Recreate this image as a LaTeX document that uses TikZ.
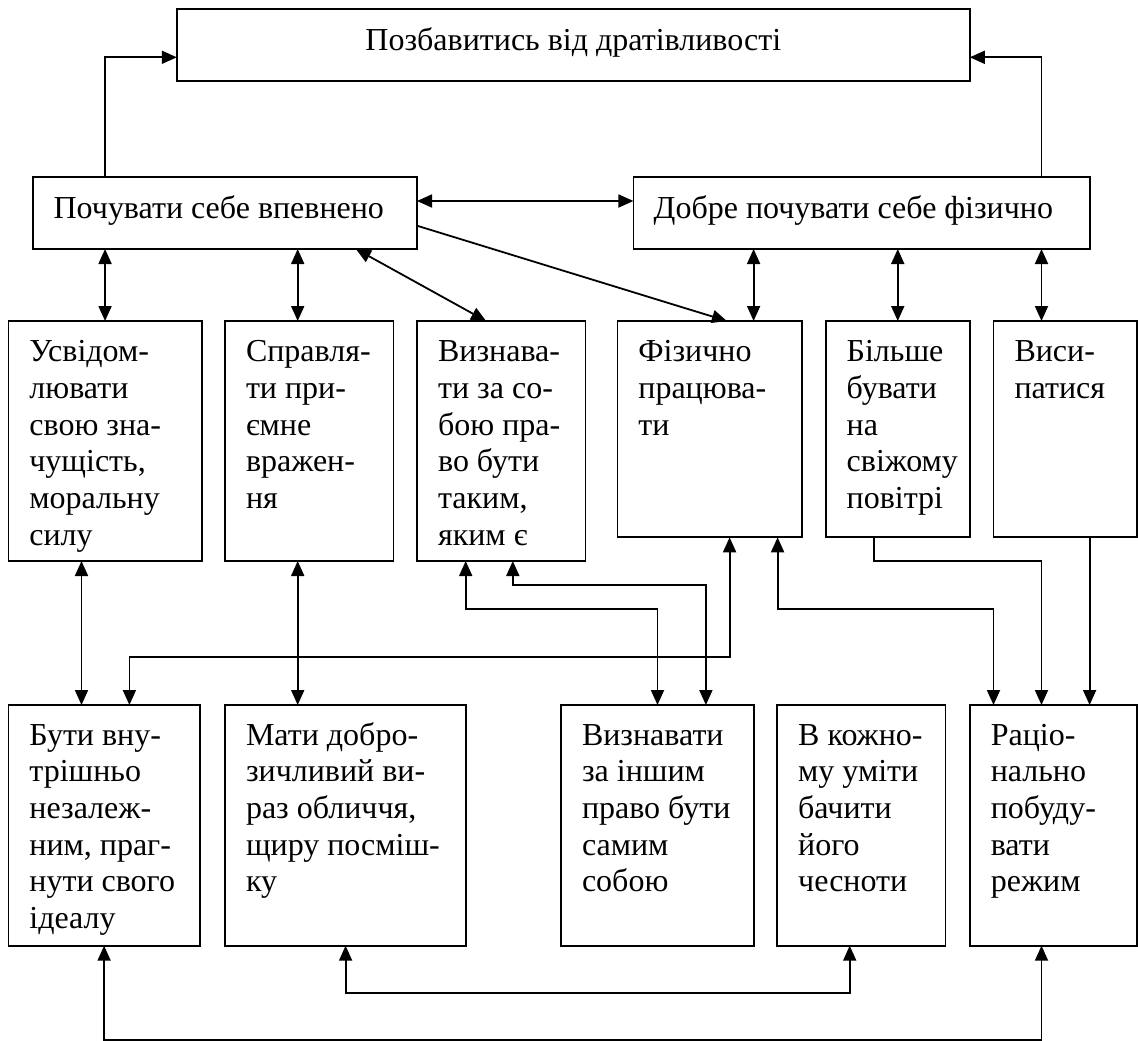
\documentclass[tikz,border=0pt]{standalone}
\usepackage{fontspec}
\setmainfont{Liberation Serif}
\usetikzlibrary{arrows.meta,calc}
\newcommand\boxlines[1]{\begin{tabular}[t]{@{}l@{}}#1\end{tabular}}
\begin{document}
\begin{tikzpicture}[x=1pt,y=-1pt,
  >={Triangle[length=15pt,width=13pt]},
  lw/.style={line width=1.8pt},
  bx/.style={draw, lw, anchor=north west, inner sep=0pt, outer sep=0pt},
  txt/.style={anchor=base west, inner sep=0pt, outer sep=0pt, font=\fontsize{32}{36.7}\selectfont},
  arr/.style={lw, ->},
  dbl/.style={lw, <->}]
\fill[white] (0,0) rectangle (1138,1041);
\useasboundingbox (0,0) rectangle (1138,1041);

% boxes
\node[bx, minimum width=793pt, minimum height=71.7pt] (T) at (176.8,9) {};
\node[bx, minimum width=383.7pt, minimum height=72.3pt] (L) at (33.3,176.7) {};
\node[bx, minimum width=456.6pt, minimum height=72.3pt] (R) at (633.4,176.7) {};
\node[bx, minimum width=193.3pt, minimum height=240pt] (b1) at (8.4,321) {};
\node[bx, minimum width=168.4pt, minimum height=240pt] (b2) at (225,321) {};
\node[bx, minimum width=168.4pt, minimum height=240pt] (b3) at (417.1,321) {};
\node[bx, minimum width=184.6pt, minimum height=216.3pt] (b4) at (617.4,321) {};
\node[bx, minimum width=144.1pt, minimum height=216.3pt] (b5) at (825.7,321) {};
\node[bx, minimum width=143.5pt, minimum height=216.3pt] (b6) at (993.5,321) {};
\node[bx, minimum width=191.4pt, minimum height=240.7pt] (b7) at (8.4,705) {};
\node[bx, minimum width=240.8pt, minimum height=240.7pt] (b8) at (225,705) {};
\node[bx, minimum width=192.6pt, minimum height=240.7pt] (b9) at (561,705) {};
\node[bx, minimum width=168.2pt, minimum height=240.7pt] (b10) at (777.2,705) {};
\node[bx, minimum width=167.2pt, minimum height=240.7pt] (b11) at (969.8,705) {};

% texts
\node[anchor=base, inner sep=0pt, font=\fontsize{32}{36.7}\selectfont] (tT) at ([yshift=-42pt]T.north) {Позбавитись від дратівливості};
\node[txt] (tL) at ([xshift=20.3pt,yshift=-41.3pt]L.north west) {Почувати себе впевнено};
\node[txt] (tR) at ([xshift=20.3pt,yshift=-41.3pt]R.north west) {Добре почувати себе фізично};
\node[txt] (t1) at ([xshift=21pt,yshift=-40.7pt]b1.north west) {\boxlines{Усвідом-\\лювати\\свою зна-\\чущість,\\моральну\\силу}};
\node[txt] (t2) at ([xshift=21pt,yshift=-40.7pt]b2.north west) {\boxlines{Справля-\\ти при-\\ємне\\вражен-\\ня}};
\node[txt] (t3) at ([xshift=21pt,yshift=-40.7pt]b3.north west) {\boxlines{Визнава-\\ти за со-\\бою пра-\\во бути\\таким,\\яким є}};
\node[txt] (t4) at ([xshift=21pt,yshift=-40.7pt]b4.north west) {\boxlines{Фізично\\працюва-\\ти}};
\node[txt] (t5) at ([xshift=21pt,yshift=-40.7pt]b5.north west) {\boxlines{Більше\\бувати\\на\\свіжому\\повітрі}};
\node[txt] (t6) at ([xshift=21pt,yshift=-40.7pt]b6.north west) {\boxlines{Виси-\\патися}};
\node[txt] (t7) at ([xshift=21pt,yshift=-40pt]b7.north west) {\boxlines{Бути вну-\\трішньо\\незалеж-\\ним, праг-\\нути свого\\ідеалу}};
\node[txt] (t8) at ([xshift=21pt,yshift=-40pt]b8.north west) {\boxlines{Мати добро-\\зичливий ви-\\раз обличчя,\\щиру посміш-\\ку}};
\node[txt] (t9) at ([xshift=21pt,yshift=-40pt]b9.north west) {\boxlines{Визнавати\\за іншим\\право бути\\самим\\собою}};
\node[txt] (t10) at ([xshift=21pt,yshift=-40pt]b10.north west) {\boxlines{В кожно-\\му уміти\\бачити\\його\\чесноти}};
\node[txt] (t11) at ([xshift=21pt,yshift=-40pt]b11.north west) {\boxlines{Раціо-\\нально\\побуду-\\вати\\режим}};

% helper coordinates
\coordinate (x2) at ([xshift=72.7pt]b2.north west);
\coordinate (x4) at ([xshift=136.2pt]b4.north west);
\coordinate (x6) at ([xshift=48pt]b6.north west);
\coordinate (x1) at ([xshift=73.1pt]b1.south west);
\coordinate (x6b) at ([xshift=96.1pt]b6.south west);

% connectors
\draw[arr] ([xshift=71.7pt]L.north west) |- ([yshift=-48.3pt]T.north west);
\draw[arr] ([xshift=408.1pt]R.north west) |- ([yshift=-48.3pt]T.north east);
\draw[dbl] ([yshift=-24.3pt]L.north east) -- ([yshift=-24.3pt]R.north west);
\draw[arr] ([yshift=-49pt]L.north east) -- ([xshift=109.5pt]b4.north west);
\draw[dbl] (L.south -| b1.north) -- (b1.north);
\draw[dbl] (x2 |- L.south) -- (x2);
\draw[dbl] ([xshift=322.6pt]L.south west) -- ([xshift=69pt]b3.north west);
\draw[dbl] (x4 |- R.south) -- (x4);
\draw[dbl] (R.south -| b5.north) -- (b5.north);
\draw[dbl] (x6 |- R.south) -- (x6);
\draw[dbl] (x1) -- (x1 |- b7.north);
\draw[dbl] (x2 |- b2.south) -- (x2 |- b8.north);
\draw[dbl] ([xshift=121pt]b7.north west) -- ++(0,-48) -| ([xshift=112.2pt]b4.south west);
\draw[dbl] ([xshift=48.6pt]b3.south west) -- ++(0,48) -| ([xshift=96.5pt]b9.north west);
\draw[dbl] ([xshift=95.7pt]b3.south west) -- ++(0,24) -| ([xshift=144.9pt]b9.north west);
\draw[dbl] ([xshift=160.2pt]b4.south west) -- ++(0,72) -| ([xshift=23.7pt]b11.north west);
\draw[arr] ([xshift=48pt]b5.south west) -- ++(0,24) -| ([xshift=71.7pt]b11.north west);
\draw[arr] (x6b) -- (x6b |- b11.north);
\draw[dbl] ([xshift=95.7pt]b7.south west) -- ++(0,94.3) -| ([xshift=71.7pt]b11.south west);
\draw[dbl] ([xshift=120.6pt]b8.south west) -- ++(0,47.6) -| ([xshift=72.5pt]b10.south west);
\end{tikzpicture}
\end{document}
